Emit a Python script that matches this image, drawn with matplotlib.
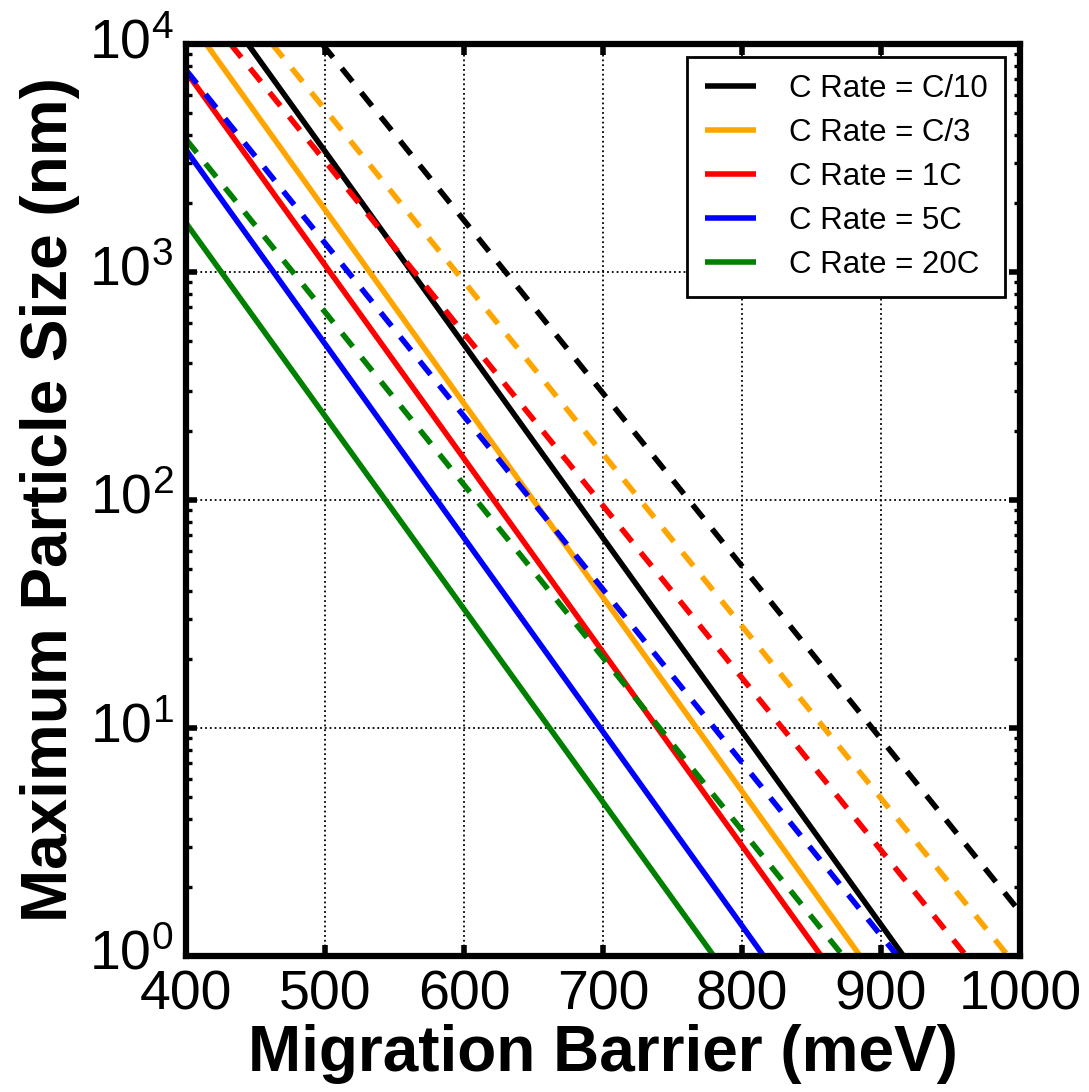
import matplotlib
matplotlib.use("Agg")
import matplotlib.pyplot as plt
import matplotlib.transforms as mtransforms
import numpy as np

plt.rcParams['font.family'] = ['Liberation Sans', 'DejaVu Sans']
plt.rcParams['mathtext.fontset'] = 'custom'
plt.rcParams['mathtext.rm'] = 'Liberation Sans'
plt.rcParams['mathtext.default'] = 'regular'

# ---- data ----
rates = ['C/10', 'C/3', '1C', '5C', '20C']
colors = ['black', 'orange', 'red', 'blue', 'green']

# solid lines: (barrier meV, size nm) at both ends
solid_x_start = [444.5, 414.5, 400.0, 400.0, 400.0]
solid_y_start = [1e4, 1e4, 7570.0, 3430.0, 1640.0]
solid_x_end = [916.2, 885.0, 857.0, 815.6, 779.7]
solid_y_end = [1.0, 1.0, 1.0, 1.0, 1.0]

# dashed lines
dashed_x_start = [498.0, 462.0, 432.0, 400.0, 400.0]
dashed_y_start = [1e4, 1e4, 1e4, 7690.0, 3820.0]
dashed_x_end = [1000.0, 991.5, 961.4, 911.8, 872.7]
dashed_y_end = [1.56, 1.0, 1.0, 1.0, 1.0]

xticks = [400, 500, 600, 700, 800, 900, 1000]

fig = plt.figure(figsize=(10.89, 10.92), dpi=100)
ax = fig.add_axes([186/1089, 1-956/1092, (1020-186)/1089, (956-44)/1092])

for i, r in enumerate(rates):
    ax.plot([solid_x_start[i], solid_x_end[i]], [solid_y_start[i], solid_y_end[i]],
            color=colors[i], lw=4, label='C Rate = ' + r, solid_capstyle='butt')
for i, r in enumerate(rates):
    ax.plot([dashed_x_start[i], dashed_x_end[i]], [dashed_y_start[i], dashed_y_end[i]],
            color=colors[i], lw=4, linestyle=(0, (3.1, 2.5)))

ax.set_yscale('log')
ax.set_xlim(400, 1000)
ax.set_ylim(1, 1e4)
ax.set_xticks(xticks)
ax.set_xticklabels([str(t) for t in xticks])

ax.grid(True, which='major', linestyle=':', color='black', lw=1.3)
ax.tick_params(which='both', direction='in', top=True, right=True)
ax.tick_params(which='major', length=8, width=4, labelsize=40, pad=9)
ax.tick_params(axis='x', which='major', pad=9.5)
ax.tick_params(which='minor', length=4.5, width=2.4)
ax.tick_params(axis='x', which='minor', bottom=False, top=False)
for s in ax.spines.values():
    s.set_linewidth(4.5)

# nudge y tick labels slightly upward, as in the reference
offset = mtransforms.ScaledTranslation(0, 6/100, fig.dpi_scale_trans)
for lab in ax.get_yticklabels():
    lab.set_transform(lab.get_transform() + offset)

ax.set_xlabel('Migration Barrier (meV)', fontsize=46, fontweight='bold', labelpad=2)
ax.set_ylabel('Maximum Particle Size (nm)', fontsize=46, fontweight='bold', labelpad=6)

leg = ax.legend(loc='upper right', bbox_to_anchor=(0.982, 0.986), borderaxespad=0,
                fontsize=22.5, fancybox=False, framealpha=1, edgecolor='black',
                handlelength=1.65, handletextpad=1.05, labelspacing=0.45, borderpad=0.55)
leg.get_frame().set_linewidth(2)

fig.savefig('out.png', dpi=100)
